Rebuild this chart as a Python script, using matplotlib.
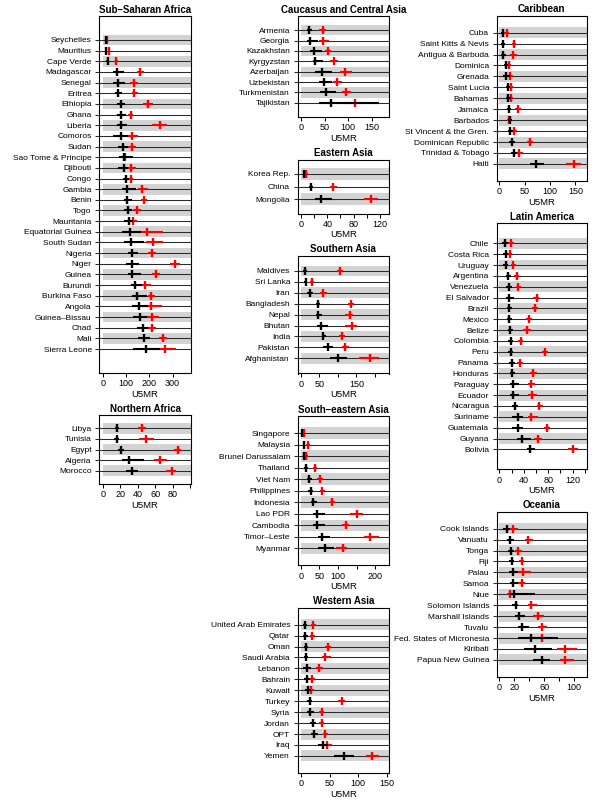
import matplotlib
matplotlib.use("Agg")
import matplotlib.pyplot as plt
import numpy as np

plt.rcParams['font.family'] = ['Liberation Sans', 'DejaVu Sans']

# ---- data: black = later estimate, red = earlier estimate (value, lower, upper)
ssa_countries = ['Seychelles', 'Mauritius', 'Cape Verde', 'Madagascar', 'Senegal', 'Eritrea',
                 'Ethiopia', 'Ghana', 'Liberia', 'Comoros', 'Sudan', 'Sao Tome & Principe',
                 'Djibouti', 'Congo', 'Gambia', 'Benin', 'Togo', 'Mauritania',
                 'Equatorial Guinea', 'South Sudan', 'Nigeria', 'Niger', 'Guinea', 'Burundi',
                 'Burkina Faso', 'Angola', 'Guinea–Bissau', 'Chad', 'Mali', 'Sierra Leone']
ssa_blk = [14, 14, 21, 61, 64, 67, 77, 79, 80, 79, 87, 93, 90, 100, 103, 106, 109, 113,
           117, 121, 124, 127, 127, 140, 146, 157, 160, 171, 177, 186]
ssa_blk_lo = [10, 10, 15, 46, 46, 53, 60, 60, 60, 46, 67, 70, 67, 89, 81, 91, 93, 91,
              83, 93, 110, 100, 110, 120, 124, 124, 131, 146, 153, 131]
ssa_blk_hi = [18, 19, 27, 91, 96, 83, 96, 100, 103, 110, 110, 131, 110, 114, 143, 126, 126, 131,
              165, 177, 150, 157, 163, 167, 189, 196, 189, 196, 203, 246]
ssa_red = [17, 26, 59, 161, 136, 136, 196, 121, 244, 126, 127, 95, 123, 121, 170, 177, 147, 129,
           189, 217, 213, 310, 229, 181, 207, 206, 210, 210, 257, 267]
ssa_red_lo = [13, 21, 52, 146, 117, 124, 174, 110, 210, 103, 110, 81, 107, 110, 153, 164, 131, 114,
              155, 186, 196, 289, 210, 160, 193, 174, 181, 196, 243, 231]
ssa_red_hi = [21, 31, 66, 177, 153, 150, 217, 131, 274, 150, 141, 117, 141, 131, 193, 189, 164, 146,
              257, 260, 229, 331, 246, 206, 224, 256, 243, 229, 274, 314]

naf_countries = ['Libya', 'Tunisia', 'Egypt', 'Algeria', 'Morocco']
naf_blk = [16, 16, 21, 30, 33]
naf_blk_lo = [14, 13, 18, 22, 27]
naf_blk_hi = [19, 19, 24, 47, 40]
naf_red = [45, 50, 86, 66, 79]
naf_red_lo = [40, 42, 81, 59, 72]
naf_red_hi = [50, 59, 90, 74, 84]

cca_countries = ['Armenia', 'Georgia', 'Kazakhstan', 'Kyrgyzstan', 'Azerbaijan', 'Uzbekistan',
                 'Turkmenistan', 'Tajikistan']
cca_blk = [17, 20, 28, 30, 45, 49, 52, 63]
cca_blk_lo = [12, 13, 19, 25, 30, 37, 40, 37]
cca_blk_hi = [23, 35, 44, 46, 65, 65, 75, 164]
cca_red = [46, 47, 56, 70, 93, 76, 95, 115]
cca_red_lo = [39, 37, 50, 62, 83, 67, 86, 97]
cca_red_hi = [53, 60, 63, 79, 108, 86, 105, 129]

eas_countries = ['Korea Rep.', 'China', 'Mongolia']
eas_blk = [4.5, 15, 30]
eas_blk_lo = [2.5, 12, 21]
eas_blk_hi = [6.5, 18, 47]
eas_red = [7.5, 49, 106]
eas_red_lo = [5, 44, 96]
eas_red_hi = [10, 54, 117]

sas_countries = ['Maldives', 'Sri Lanka', 'Iran', 'Bangladesh', 'Nepal', 'Bhutan', 'India',
                 'Pakistan', 'Afghanistan']
sas_blk = [11, 13, 24, 45, 47, 53, 61, 72, 99]
sas_blk_lo = [6, 8, 17, 40, 41, 44, 56, 60, 79]
sas_blk_hi = [15, 17, 33, 51, 56, 74, 68, 86, 124]
sas_red = [106, 30, 61, 136, 133, 137, 112, 120, 188]
sas_red_lo = [97, 24, 51, 128, 119, 119, 104, 111, 157]
sas_red_hi = [114, 35, 71, 143, 142, 153, 120, 129, 211]

sea_countries = ['Singapore', 'Malaysia', 'Brunei Darussalam', 'Thailand', 'Viet Nam',
                 'Philippines', 'Indonesia', 'Lao PDR', 'Cambodia', 'Timor–Leste', 'Myanmar']
sea_blk = [3.6, 8, 8, 13.5, 22.5, 27, 33, 44, 44, 56, 65]
sea_blk_lo = [2, 5, 5, 8, 15, 20, 26, 32, 32, 47, 47]
sea_blk_hi = [5, 12, 12, 20, 30, 33, 42, 65, 66, 78, 89]
sea_red = [9, 18, 13.5, 37, 51, 58, 85, 150, 121, 187, 113]
sea_red_lo = [6, 13, 9, 32, 44, 51, 78, 132, 112, 169, 95]
sea_red_hi = [12, 23, 18, 42, 59, 66, 92, 168, 131, 211, 124]

was_countries = ['United Arab Emirates', 'Qatar', 'Oman', 'Saudi Arabia', 'Lebanon', 'Bahrain',
                 'Kuwait', 'Turkey', 'Syria', 'Jordan', 'OPT', 'Iraq', 'Yemen']
was_blk = [7, 7.6, 8.8, 9.3, 10, 11, 12.8, 15.8, 16.3, 21, 23, 39, 75]
was_blk_lo = [3, 4, 5, 6, 4, 6, 7, 11, 11, 16, 17, 30, 57]
was_blk_hi = [11, 12, 13, 13, 17, 16, 17, 20, 22, 26, 29, 48, 93]
was_red = [21.6, 20, 46.7, 42.6, 31.5, 20, 17, 71, 36, 36, 42.6, 45.5, 124]
was_red_lo = [17, 16, 42, 36, 26, 16, 13, 65, 31, 32, 38, 40, 114]
was_red_hi = [26, 25, 52, 52, 38, 25, 22, 77, 41, 41, 48, 55, 136]

car_countries = ['Cuba', 'Saint Kitts & Nevis', 'Antigua & Barbuda', 'Dominica', 'Grenada',
                 'Saint Lucia', 'Bahamas', 'Jamaica', 'Barbados', 'St Vincent & the Gren.',
                 'Dominican Republic', 'Trinidad & Tobago', 'Haiti']
car_blk = [6.6, 7.9, 7.9, 13, 13, 16.4, 17.8, 19.7, 21, 21.7, 25, 29, 72]
car_blk_lo = [3, 4, 3, 8.5, 8, 12.5, 13, 15, 16.5, 16.5, 19.7, 24, 60]
car_blk_hi = [10, 12, 12.5, 17.8, 21, 21, 23, 24, 25.6, 27, 31, 34, 88]
car_red = [14.5, 29.6, 27.6, 19.7, 22, 23.7, 23.7, 36, 19, 29, 60, 38, 146.7]
car_red_lo = [10, 25.7, 21, 15, 17.8, 19, 19.7, 31, 15, 23, 54, 31, 131]
car_red_hi = [19, 33, 35, 24, 27, 28, 28, 43, 24, 35, 66, 47, 162]

lam_countries = ['Chile', 'Costa Rica', 'Uruguay', 'Argentina', 'Venezuela', 'El Salvador',
                 'Brazil', 'Mexico', 'Belize', 'Colombia', 'Peru', 'Panama', 'Honduras',
                 'Paraguay', 'Ecuador', 'Nicaragua', 'Suriname', 'Guatemala', 'Guyana', 'Bolivia']
lam_blk = [8.7, 10.4, 11, 14.8, 15.3, 15.8, 15.8, 15.8, 18, 18.6, 18.6, 20, 21, 22.4, 23, 25.7,
           30, 30, 36.6, 51]
lam_blk_lo = [5, 6.5, 6.5, 11, 11, 11, 12, 12.5, 13.7, 14.8, 14.8, 15.8, 17.5, 17.5, 17.5, 21,
              21, 21, 28.4, 44.8]
lam_blk_hi = [13.7, 13.7, 14.8, 18.6, 20, 23.5, 20, 20, 22.4, 23, 23, 25.7, 25.7, 32, 32, 30,
              39, 39, 52, 59]
lam_red = [19, 17.5, 23, 28.4, 31, 61, 58.5, 48.6, 44.8, 35, 75, 34, 55, 52, 53, 65.6, 52, 78,
           63, 120]
lam_red_lo = [14.8, 13.7, 18.6, 24.6, 26.8, 55.7, 53, 43.7, 38.3, 31, 70, 29.5, 50, 46.5, 47.5,
              61, 46.5, 73, 57.4, 113]
lam_red_hi = [23.5, 21.3, 27, 32, 35.5, 65.6, 64, 54, 52, 39, 80, 39, 61, 58.5, 61, 71, 64,
              83, 69.4, 128]

oce_countries = ['Cook Islands', 'Vanuatu', 'Tonga', 'Fiji', 'Palau', 'Samoa', 'Niue',
                 'Solomon Islands', 'Marshall Islands', 'Tuvalu', 'Fed. States of Micronesia',
                 'Kiribati', 'Papua New Guinea']
oce_blk = [9.8, 14, 16, 16.4, 18.7, 18.7, 20, 21.8, 26, 30, 42, 47.5, 57]
oce_blk_lo = [5.3, 9.8, 12, 13.3, 13.3, 14.2, 14.2, 17.3, 20.9, 24.4, 25.3, 33.3, 45.3]
oce_blk_hi = [14.2, 19.6, 20, 19.6, 25.3, 25.3, 47.5, 25.3, 34, 39.6, 77.8, 70.2, 67.6]
oce_red = [18.7, 38.7, 25.3, 29.8, 32, 29.8, 14.2, 42, 52, 57, 56.4, 87.5, 87.5]
oce_red_lo = [14.2, 34.2, 20.9, 26.2, 24.4, 25.3, 9.8, 37.8, 45.3, 51.1, 45.3, 77.3, 80.9]
oce_red_hi = [24.4, 45.3, 30.7, 33.3, 42.2, 34.2, 20, 49.8, 60, 64, 67.6, 103, 99]

W, H = 595, 800
fig = plt.figure(figsize=(W / 100, H / 100), dpi=100)

BAND = '#d3d3d3'
ROWLINE = '#2a2a2a'


def panel(box, title, countries, blk, blk_lo, blk_hi, red, red_lo, red_hi,
          xlim, ticks, ticklabels):
    x0, x1, y0, y1 = box
    ax = fig.add_axes([x0 / W, 1 - y1 / H, (x1 - x0) / W, (y1 - y0) / H])
    n = len(countries)
    y = np.arange(1, n + 1)
    for i in y:
        if i % 2 == 1:
            ax.fill_between([0, xlim[1] * 2], i - 0.5, i + 0.5, color=BAND, lw=0, zorder=0)
        ax.axhline(i, color=ROWLINE, lw=0.75, zorder=1)
    ax.hlines(y, red_lo, red_hi, color='red', lw=1.5, zorder=2)
    ax.plot(red, y, ls='none', marker='|', ms=6, mew=1.7, color='red', zorder=2)
    ax.hlines(y, blk_lo, blk_hi, color='black', lw=1.5, zorder=3)
    ax.plot(blk, y, ls='none', marker='|', ms=6, mew=1.7, color='black', zorder=3)

    ax.set_xlim(xlim)
    ax.set_ylim((n + 1) * 1.04, -0.04 * (n + 1))
    ax.set_yticks(y)
    ax.set_yticklabels(countries, fontsize=6)
    ax.set_xticks(ticks)
    ax.set_xticklabels(ticklabels, fontsize=6.5)
    ax.tick_params(axis='y', length=3, width=0.75, pad=2.5, color=ROWLINE)
    ax.tick_params(axis='x', length=3, width=0.75, pad=1.5)
    ax.set_xlabel('U5MR', fontsize=6.8, labelpad=1)
    ax.set_title(title, fontsize=7, fontweight='bold', pad=2.5)
    for s in ax.spines.values():
        s.set_linewidth(0.8)
    return ax


L = (99.3, 190.7)
M = (297.7, 389.0)
R = (496.7, 586.7)

panel(L + (16, 373), 'Sub–Saharan Africa', ssa_countries, ssa_blk, ssa_blk_lo, ssa_blk_hi,
      ssa_red, ssa_red_lo, ssa_red_hi, (-14.6, 377.7), [0, 100, 200, 300],
      ['0', '100', '200', '300'])
panel(L + (415, 484), 'Northern Africa', naf_countries, naf_blk, naf_blk_lo, naf_blk_hi,
      naf_red, naf_red_lo, naf_red_hi, (-3.9, 100.6), [0, 20, 40, 60, 80, 100],
      ['0', '20', '40', '60', '80', ''])

panel(M + (16, 117), 'Caucasus and Central Asia', cca_countries, cca_blk, cca_blk_lo, cca_blk_hi,
      cca_red, cca_red_lo, cca_red_hi, (-7.0, 186), [0, 50, 100, 150],
      ['0', '50', '100', '150'])
panel(M + (159.5, 213.5), 'Eastern Asia', eas_countries, eas_blk, eas_blk_lo, eas_blk_hi,
      eas_red, eas_red_lo, eas_red_hi, (-5.0, 133.7), [0, 20, 40, 60, 80, 100, 120],
      ['0', '', '40', '', '80', '', '120'])
panel(M + (255.7, 373.5), 'Southern Asia', sas_countries, sas_blk, sas_blk_lo, sas_blk_hi,
      sas_red, sas_red_lo, sas_red_hi, (-8.9, 238.5), [0, 50, 100, 150, 200],
      ['0', '50', '', '150', ''])
panel(M + (416, 565.4), 'South–eastern Asia', sea_countries, sea_blk, sea_blk_lo, sea_blk_hi,
      sea_red, sea_red_lo, sea_red_hi, (-8.9, 237.8), [0, 50, 100, 150, 200],
      ['0', '50', '100', '', '200'])
panel(M + (607.6, 773), 'Western Asia', was_countries, was_blk, was_blk_lo, was_blk_hi,
      was_red, was_red_lo, was_red_hi, (-5.8, 154), [0, 50, 100, 150],
      ['0', '50', '100', '150'])

panel(R + (15.6, 181), 'Caribbean', car_countries, car_blk, car_blk_lo, car_blk_hi,
      car_red, car_red_lo, car_red_hi, (-5.1, 172.4), [0, 50, 100, 150],
      ['0', '50', '100', '150'])
panel(R + (223.4, 469.3), 'Latin America', lam_countries, lam_blk, lam_blk_lo, lam_blk_hi,
      lam_red, lam_red_lo, lam_red_hi, (-4.3, 143), [0, 20, 40, 60, 80, 100, 120, 140],
      ['0', '', '40', '', '80', '', '120', ''])
panel(R + (511.6, 677), 'Oceania', oce_countries, oce_blk, oce_blk_lo, oce_blk_hi,
      oce_red, oce_red_lo, oce_red_hi, (-3.5, 116.5), [0, 20, 40, 60, 80, 100],
      ['0', '20', '', '60', '', '100'])

fig.savefig('out.png', dpi=100)
